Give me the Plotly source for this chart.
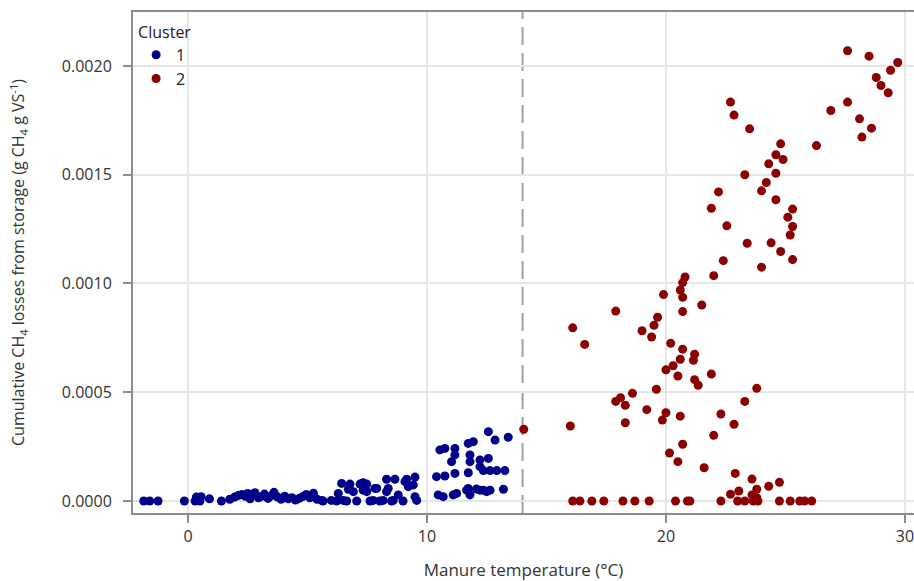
import plotly.graph_objects as go

# Cluster 1 (blue) - manure temperature (°C) and cumulative CH4 losses
c1_temp = [-1.85, -1.6, -1.25, -0.15, 0.3, 0.35, 0.5, 0.55, 0.9, 1.4, 1.75, 1.95, 2.1, 2.25, 2.4, 2.5,
           2.6, 2.7, 2.8, 2.95, 3.05, 3.2, 3.35, 3.5, 3.6, 3.75, 3.9, 4.05, 4.2, 4.35, 4.5,
           4.65, 4.8, 4.95, 5.1, 5.25, 5.4, 5.6, 5.65,
           6.0, 6.22, 6.29, 6.43, 6.5, 6.64, 6.71, 6.78, 6.92, 7.06, 7.2, 7.33, 7.33, 7.48, 7.48,
           7.62, 7.75, 7.82, 7.9, 8.03, 8.17, 8.31, 8.31, 8.38, 8.52, 8.59, 8.66, 8.8, 9.0,
           9.08, 9.15, 9.22, 9.43, 9.5, 9.5, 9.57,
           10.4, 10.47, 10.54, 10.68, 10.75, 10.75, 11.03, 11.1, 11.17, 11.17, 11.17, 11.24,
           11.66, 11.73, 11.73, 11.73, 11.8, 11.8, 11.8, 11.94, 12.07, 12.22, 12.22, 12.22,
           12.36, 12.36, 12.5, 12.57, 12.57, 12.64, 12.64, 12.85, 12.92, 13.2, 13.26, 13.4]
c1_ch4 = [0.0, 0.0, 0.0, 0.0, 0.0, 0.000018, 0.0, 0.00002, 0.00001, 0.0, 0.000008, 0.000018, 0.000025, 0.00003, 0.000022, 0.000035,
          0.00001, 0.000028, 0.000038, 0.000015, 0.00002, 0.000032, 0.000012, 0.000025, 0.00004, 0.000018, 0.000008, 0.000022, 0.00001, 0.000015, 0.000005,
          0.000012, 0.00002, 0.00003, 0.000015, 0.000036, 0.000008, 0.000003, 0.0,
          0.000003, 0.0, 0.000035, 0.000081, 0.000003, 0.0, 0.000054, 0.000078, 0.000043, 0.0, 0.000078, 0.00005, 0.000084, 0.000078, 0.000043,
          0.0, 0.000003, 0.000058, 0.000058, 0.0, 0.000003, 0.0001, 0.000043, 0.000058, 0.0, 0.000003, 0.0001, 0.000028, 0.0,
          0.000089, 0.0001, 0.000066, 0.000074, 0.00011, 0.00002, 0.000003,
          0.000112, 0.000028, 0.000235, 0.00002, 0.000242, 0.000115, 0.000181, 0.000028, 0.000242, 0.000212, 0.000127, 0.000035,
          0.00005, 0.000265, 0.00013, 0.000058, 0.000212, 0.000181, 0.000028, 0.000273, 0.000055, 0.000189, 0.000158, 0.00005,
          0.00014, 0.00005, 0.000043, 0.000319, 0.000196, 0.00014, 0.00005, 0.00028, 0.00014, 0.000054, 0.00014, 0.000293]

# Cluster 2 (red)
c2_temp = [14.05, 16.0, 16.1, 16.6, 17.9, 17.9, 18.1, 18.3, 18.3, 18.6, 19.0, 19.2, 19.4, 19.5, 19.65,
           19.6, 19.85, 20.0, 19.9, 20.0, 20.15, 20.2, 20.3, 20.5, 20.5, 20.6, 20.6, 20.6, 20.7, 20.7,
           20.7, 20.7, 20.7, 20.8, 21.15, 21.2, 21.2, 21.35, 21.5, 21.6, 21.9, 21.9, 22.0, 22.0, 22.2,
           22.3, 22.4, 22.55, 22.7, 22.7, 22.85, 22.85, 22.9, 23.05, 23.3, 23.3, 23.4, 23.5, 23.6, 23.6,
           23.8, 23.8, 23.8, 24.0, 24.0, 24.2, 24.3, 24.3, 24.4, 24.6, 24.6, 24.6, 24.75, 24.8, 24.8,
           24.9, 25.1, 25.3, 25.3, 25.2, 25.3, 26.3, 26.9, 27.6, 27.6, 28.1, 28.2, 28.5, 28.6, 28.8,
           29.0, 29.3, 29.4, 29.7,
           16.1, 16.4, 16.9, 17.4, 18.2, 18.7, 19.3, 20.4, 20.9, 21.0, 22.3, 23.0, 23.3, 23.65, 23.85,
           24.75, 25.2, 25.6, 25.8, 26.1]
c2_ch4 = [0.00033, 0.000345, 0.000796, 0.00072, 0.000873, 0.000458, 0.000475, 0.00044, 0.00036, 0.000495,
          0.000783, 0.00042, 0.000754, 0.000808, 0.000845, 0.000514, 0.000372, 0.000406, 0.000949, 0.000603,
          0.000221, 0.000725, 0.000622, 0.000575, 0.000181, 0.00039, 0.000652, 0.00097, 0.000261, 0.000698,
          0.000871, 0.000937, 0.001004, 0.00103, 0.000647, 0.000675, 0.000558, 0.000532, 0.000901, 0.000153,
          0.000584, 0.001346, 0.000302, 0.001036, 0.001421, 0.0004, 0.001105, 0.001265, 0.000031, 0.001834,
          0.000353, 0.001774, 0.000127, 0.000046, 0.000458, 0.0015, 0.001185, 0.001711, 0.000101, 0.000028,
          0.000054, 0.000015, 0.000518, 0.001075, 0.001426, 0.001464, 0.00155, 0.000068, 0.001187, 0.001507,
          0.001592, 0.001385, 0.000086, 0.001642, 0.001147, 0.00157, 0.001305, 0.001342, 0.001262, 0.001223,
          0.00111, 0.001634, 0.001795, 0.001834, 0.00207, 0.001757, 0.001673, 0.002045, 0.001714, 0.001947,
          0.00191, 0.001877, 0.00198, 0.002016,
          0.0, 0.0, 0.0, 0.0, 0.0, 0.0, 0.0, 0.0, 0.0, 0.0, 0.0, 0.0, 0.0, 0.0, 0.0,
          0.0, 0.0, 0.0, 0.0, 0.0]

threshold_temp = 14.0
x_ticks = [0, 10, 20, 30]
y_ticks = [0.0, 0.0005, 0.0010, 0.0015, 0.0020]
y_ticklabels = ["0.0000", "0.0005", "0.0010", "0.0015", "0.0020"]

FONT = "Open Sans, Noto Sans, DejaVu Sans, sans-serif"

fig = go.Figure()
fig.add_trace(go.Scatter(x=c1_temp, y=c1_ch4, mode="markers", name="1",
                         marker=dict(color="#00008B", size=9, line=dict(width=0))))
fig.add_trace(go.Scatter(x=c2_temp, y=c2_ch4, mode="markers", name="2",
                         marker=dict(color="#8B0000", size=9, line=dict(width=0))))

fig.add_vline(x=threshold_temp, line=dict(color="#a0a0a0", width=2, dash="18px,8px"), layer="below")

fig.update_layout(
    width=914, height=581,
    margin=dict(l=133, r=0, t=12, b=68),
    plot_bgcolor="white", paper_bgcolor="white",
    font=dict(family=FONT, size=16, color="#333333"),
    legend=dict(title=dict(text="Cluster", font=dict(size=16, color="#222")),
                x=0.004, y=0.99, xanchor="left", yanchor="top",
                bgcolor="rgba(0,0,0,0)", font=dict(size=16, color="#222"),
                tracegroupgap=0, itemsizing="trace"),
    xaxis=dict(range=[-2.3, 30.38], tickvals=x_ticks, ticktext=[str(v) for v in x_ticks],
               showgrid=True, gridcolor="#e6e6e6", gridwidth=2, zeroline=False, automargin=False,
               showline=True, linecolor="#8c8c8c", linewidth=2, mirror=True,
               ticks="outside", ticklen=8, tickwidth=2, tickcolor="#8c8c8c",
               ticklabeloverflow="allow",
               tickfont=dict(size=16, color="#333"),
               title=dict(text="Manure temperature (°C)", font=dict(size=17, color="#333"), standoff=21)),
    yaxis=dict(range=[-0.000055, 0.002248], tickvals=y_ticks, ticktext=y_ticklabels,
               showgrid=True, gridcolor="#e6e6e6", gridwidth=2, zeroline=False, automargin=False,
               showline=True, linecolor="#8c8c8c", linewidth=2, mirror=False,
               ticks="outside", ticklen=8, tickwidth=2, tickcolor="#8c8c8c",
               ticklabelstandoff=8,
               tickfont=dict(size=16, color="#333"),
               title=dict(text="Cumulative CH<sub>4</sub> losses from storage (g CH<sub>4</sub> g VS<sup>-1</sup>)",
                          font=dict(size=16, color="#333"), standoff=33)),
)

# remove the default page margin so the figure fills the window exactly
fig.write_html("out.html", config={"displayModeBar": False},
               post_script="document.body.style.margin='0';document.body.style.overflow='hidden';")
